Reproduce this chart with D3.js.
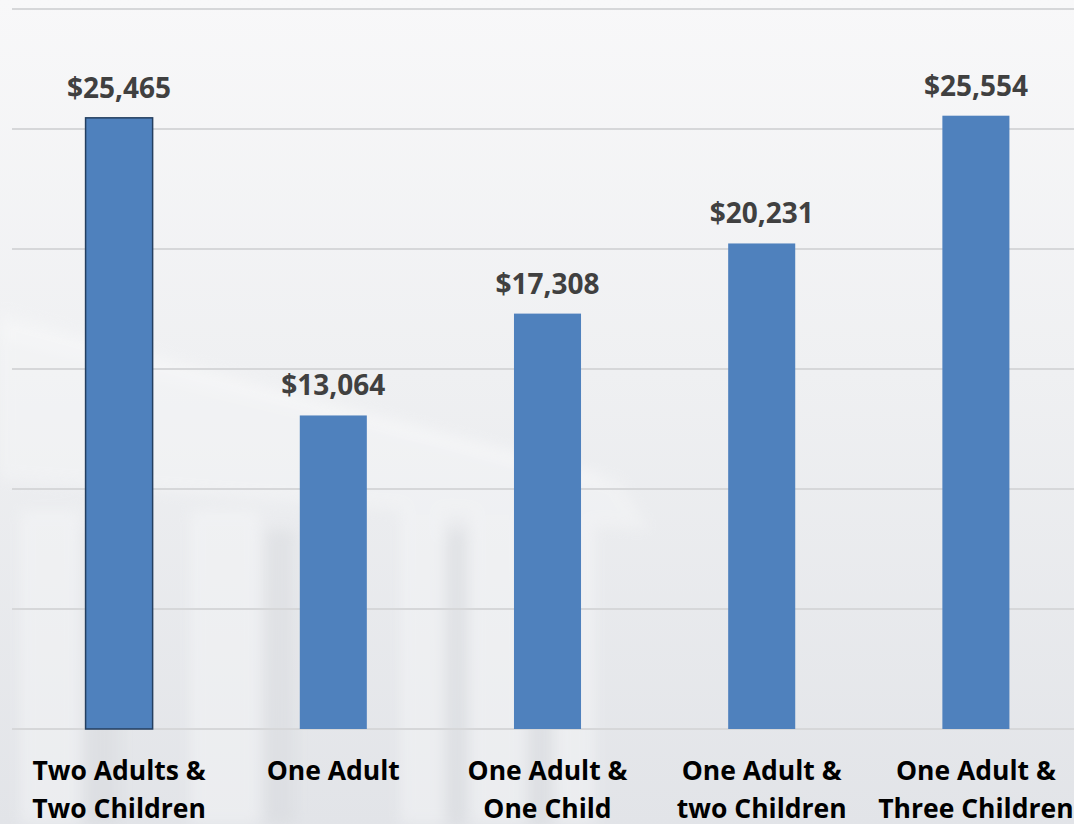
<!DOCTYPE html>
<html>
<head>
<meta charset="utf-8">
<script src="https://cdn.jsdelivr.net/npm/d3@7"></script>
<style>
  html, body { margin: 0; padding: 0; overflow: hidden; }
  body { width: 1074px; height: 824px; }
</style>
</head>
<body>
<script>
/* Data */
var categories = [
    ["Two Adults &", "Two Children"],
    ["One Adult"],
    ["One Adult &", "One Child"],
    ["One Adult &", "two Children"],
    ["One Adult &", "Three Children"]
];
var values = [25465, 13064, 17308, 20231, 25554];
var gridTicks = [0, 5000, 10000, 15000, 20000, 25000, 30000];

/* Chart */
var width = 1074, height = 824;

var svg = d3.select("body")
    .append("svg")
    .attr("width", width)
    .attr("height", height);

var defs = svg.append("defs");
var bg = defs.append("linearGradient")
    .attr("id", "bg")
    .attr("x1", 0).attr("y1", 0).attr("x2", 0).attr("y2", 1);
bg.append("stop").attr("offset", "0%").attr("stop-color", "#f8f8f9");
bg.append("stop").attr("offset", "45%").attr("stop-color", "#eff0f2");
bg.append("stop").attr("offset", "100%").attr("stop-color", "#e2e4e8");

defs.append("filter")
    .attr("id", "soft")
    .attr("x", "-20%").attr("y", "-20%").attr("width", "140%").attr("height", "140%")
    .append("feGaussianBlur")
    .attr("stdDeviation", 7);

svg.append("rect")
    .attr("width", width).attr("height", height)
    .attr("fill", "url(#bg)");

// faint building in the background
var building = svg.append("g")
    .attr("opacity", 0.45)
    .attr("filter", "url(#soft)");
building.append("path")
    .attr("d", "M0,310 L620,480 L650,530 L0,480 Z")
    .attr("fill", "#f6f7f8");
building.append("path")
    .attr("d", "M0,330 L600,480")
    .attr("stroke", "#ffffff").attr("stroke-width", 10).attr("fill", "none");
[[20, 60], [190, 70], [400, 45], [470, 55], [555, 40]].forEach(function(c) {
    building.append("rect")
        .attr("x", c[0]).attr("y", 510)
        .attr("width", c[1]).attr("height", 314)
        .attr("fill", "#f7f8f9");
});
[[85, 35], [265, 30], [445, 22], [530, 22]].forEach(function(c) {
    building.append("rect")
        .attr("x", c[0]).attr("y", 530)
        .attr("width", c[1]).attr("height", 294)
        .attr("fill", "#d6d8dc");
});

var x = d3.scaleBand()
    .domain(d3.range(values.length))
    .range([12, 1083])
    .paddingInner(0.687)
    .paddingOuter(0.3435);

var y = d3.scaleLinear()
    .domain([0, 30000])
    .range([729, 9]);

svg.append("g")
    .selectAll("line")
    .data(gridTicks)
    .enter()
    .append("line")
    .attr("x1", 12).attr("x2", width)
    .attr("y1", function(d) { return y(d); })
    .attr("y2", function(d) { return y(d); })
    .attr("stroke", "#d6d7d9")
    .attr("stroke-width", 2);

svg.append("g")
    .selectAll("rect")
    .data(values)
    .enter()
    .append("rect")
    .attr("x", function(d, i) { return x(i); })
    .attr("y", function(d) { return y(d); })
    .attr("width", x.bandwidth())
    .attr("height", function(d) { return y(0) - y(d); })
    .attr("fill", "#4f81bd")
    .attr("stroke", function(d, i) { return i === 0 ? "#243f60" : "none"; })
    .attr("stroke-width", 1.5);

var fmt = d3.format("$,");

svg.append("g")
    .selectAll("text")
    .data(values)
    .enter()
    .append("text")
    .attr("x", function(d, i) { return x(i) + x.bandwidth() / 2; })
    .attr("y", function(d) { return y(d) - 20; })
    .attr("text-anchor", "middle")
    .attr("font-family", "Open Sans")
    .attr("font-weight", "bold")
    .attr("font-size", 28)
    .attr("fill", "#404040")
    .text(function(d) { return fmt(d); });

var cat = svg.append("g")
    .selectAll("text")
    .data(categories)
    .enter()
    .append("text")
    .attr("x", function(d, i) { return x(i) + x.bandwidth() / 2; })
    .attr("y", 780)
    .attr("text-anchor", "middle")
    .attr("font-family", "Open Sans")
    .attr("font-weight", "bold")
    .attr("font-size", 26.5)
    .attr("fill", "#000000");

cat.selectAll("tspan")
    .data(function(d) { return d; })
    .enter()
    .append("tspan")
    .attr("x", function() { return d3.select(this.parentNode).attr("x"); })
    .attr("dy", function(d, j) { return j === 0 ? 0 : 38; })
    .text(function(d) { return d; });
</script>
</body>
</html>
